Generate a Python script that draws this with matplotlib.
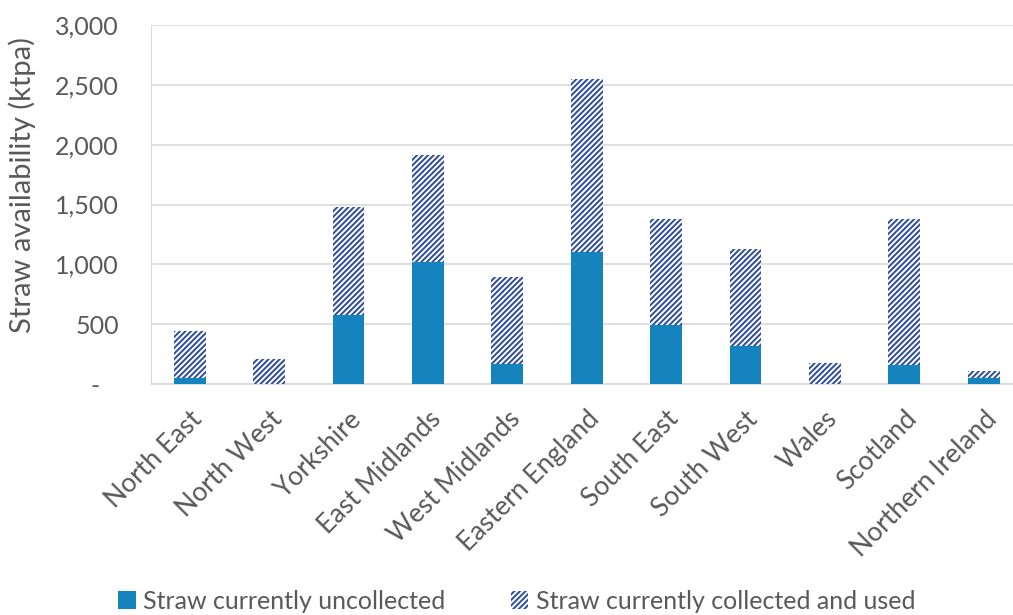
import matplotlib
matplotlib.use("Agg")
import matplotlib.pyplot as plt
from matplotlib.patches import Patch
from matplotlib.ticker import FuncFormatter

# Regional straw availability (ktpa)
regions = ["North East", "North West", "Yorkshire", "East Midlands", "West Midlands",
           "Eastern England", "South East", "South West", "Wales", "Scotland",
           "Northern Ireland"]
uncollected = [50, 0, 580, 1020, 170, 1100, 490, 320, 0, 160, 50]
collected_used = [390, 210, 900, 890, 725, 1450, 890, 810, 175, 1220, 60]

SOLID = "#1583BE"
HATCH = "#2E4C9E"
TEXT = "#595959"
GRID = "#D9D9D9"

plt.rcParams["font.family"] = ["Lato", "DejaVu Sans"]
plt.rcParams["hatch.linewidth"] = 1.4

fig = plt.figure(figsize=(10.13, 6.15), dpi=100)
ax = fig.add_axes([0.149, 0.3756, 0.851, 0.5837])

x = list(range(len(regions)))
ax.bar(x, uncollected, 0.4, color=SOLID, linewidth=0, zorder=3)
ax.bar(x, collected_used, 0.4, bottom=uncollected, facecolor="white",
       edgecolor=HATCH, hatch="//////", linewidth=0, zorder=3)

ax.set_xlim(-0.49, 10.37)
ax.set_ylim(0, 3000)
ax.set_yticks(range(0, 3001, 500))
ax.yaxis.set_major_formatter(FuncFormatter(lambda v, p: "-   " if v == 0 else f"{int(v):,}"))
ax.grid(axis="y", color=GRID, linewidth=1.2, zorder=0)

for side in ["top", "right"]:
    ax.spines[side].set_visible(False)
ax.spines["left"].set_color(GRID)
ax.spines["bottom"].set_color(GRID)
ax.spines["bottom"].set_linewidth(1.2)

ax.tick_params(axis="both", length=0, colors=TEXT)
ax.tick_params(axis="y", pad=23, labelsize=18)
ax.set_xticks(x)
ax.set_xticklabels(regions, rotation=45, ha="right", rotation_mode="anchor", fontsize=19)
ax.tick_params(axis="x", pad=16)

ax.set_ylabel("Straw availability (ktpa)", fontsize=21, color=TEXT)
ax.yaxis.set_label_coords(-0.133, 0.554)

handles = [Patch(facecolor=SOLID, linewidth=0),
           Patch(facecolor="white", edgecolor=HATCH, hatch="//////", linewidth=0)]
fig.legend(handles, ["Straw currently uncollected", "Straw currently collected and used"],
           loc="center", bbox_to_anchor=(0.51, 0.022), ncol=2, frameon=False,
           fontsize=18, labelcolor=TEXT, handlelength=0.7, handleheight=0.7,
           handletextpad=0.3, columnspacing=2.6)

fig.savefig("out.png", dpi=100)
